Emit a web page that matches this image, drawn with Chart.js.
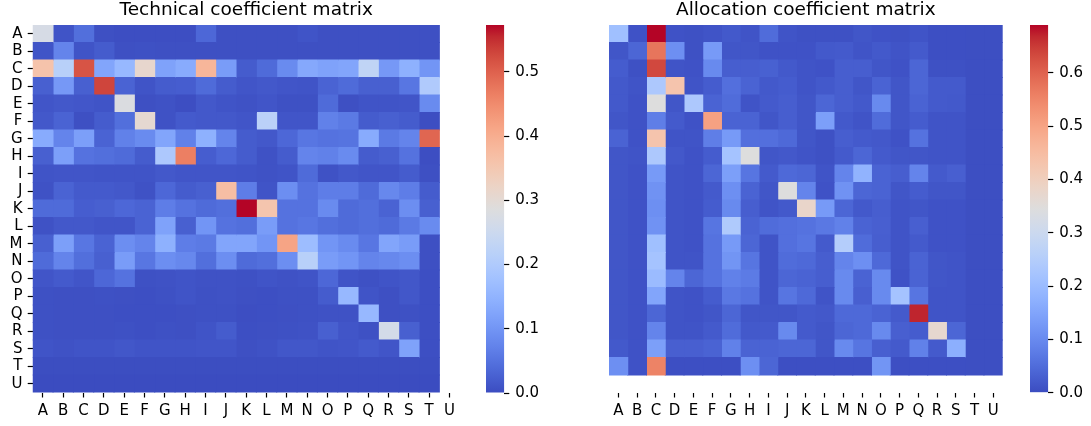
<!DOCTYPE html>
<html>
<head>
<meta charset="utf-8">
<script src="https://cdn.jsdelivr.net/npm/chart.js@4.4.1/dist/chart.umd.min.js"></script>
<style>
  html, body { margin: 0; padding: 0; background: #ffffff; }
  #wrap { position: relative; width: 1091px; height: 426px; overflow: hidden; }
  .box { position: absolute; top: 0; height: 426px; }
</style>
</head>
<body>
<div id="wrap">
  <div class="box" style="left:0px;width:470px"><canvas id="techMap"></canvas></div>
  <div class="box" style="left:470px;width:100px"><canvas id="techBar"></canvas></div>
  <div class="box" style="left:560px;width:450px"><canvas id="allocMap"></canvas></div>
  <div class="box" style="left:1010px;width:81px"><canvas id="allocBar"></canvas></div>
</div>
<script>
// Sector labels (rows and columns)
const sectors = ['A','B','C','D','E','F','G','H','I','J','K','L','M','N','O','P','Q','R','S','T','U'];

// Technical coefficients: 21 rows (A..U) x 20 columns (A..T)
const technicalRows = [
  [0.27, 0.01, 0.045, 0.005, 0.003, 0.003, 0.003, 0.003, 0.035, 0.005, 0.005, 0.005, 0.005, 0.01, 0.005, 0.005, 0.005, 0.005, 0.005, 0.005],
  [0.01, 0.075, 0.01, 0.02, 0.005, 0.006, 0.005, 0.005, 0.005, 0.005, 0.005, 0.005, 0.005, 0.005, 0.005, 0.005, 0.005, 0.005, 0.005, 0.005],
  [0.36, 0.215, 0.515, 0.125, 0.16, 0.31, 0.12, 0.135, 0.385, 0.11, 0.02, 0.04, 0.085, 0.13, 0.12, 0.125, 0.23, 0.105, 0.145, 0.1],
  [0.025, 0.105, 0.025, 0.53, 0.03, 0.01, 0.02, 0.022, 0.04, 0.02, 0.012, 0.015, 0.012, 0.01, 0.03, 0.04, 0.025, 0.025, 0.055, 0.2],
  [0.012, 0.015, 0.013, 0.01, 0.28, 0.005, 0.008, 0.003, 0.015, 0.01, 0.008, 0.012, 0.006, 0.006, 0.04, 0.005, 0.01, 0.01, 0.012, 0.085],
  [0.015, 0.03, 0.005, 0.02, 0.045, 0.305, 0.008, 0.018, 0.015, 0.015, 0.012, 0.22, 0.012, 0.012, 0.07, 0.06, 0.02, 0.025, 0.02, 0.003],
  [0.135, 0.075, 0.115, 0.03, 0.07, 0.085, 0.125, 0.07, 0.145, 0.075, 0.02, 0.015, 0.035, 0.055, 0.05, 0.052, 0.135, 0.06, 0.075, 0.495],
  [0.025, 0.115, 0.05, 0.045, 0.04, 0.02, 0.195, 0.465, 0.022, 0.035, 0.02, 0.008, 0.02, 0.075, 0.07, 0.085, 0.02, 0.025, 0.05, 0.003],
  [0.01, 0.012, 0.012, 0.01, 0.01, 0.01, 0.015, 0.012, 0.012, 0.012, 0.01, 0.008, 0.01, 0.04, 0.008, 0.015, 0.012, 0.012, 0.02, 0.005],
  [0.008, 0.03, 0.018, 0.018, 0.015, 0.008, 0.035, 0.02, 0.025, 0.37, 0.065, 0.01, 0.09, 0.05, 0.065, 0.065, 0.04, 0.08, 0.065, 0.02],
  [0.04, 0.04, 0.022, 0.025, 0.035, 0.03, 0.065, 0.05, 0.04, 0.045, 0.573, 0.355, 0.05, 0.05, 0.085, 0.04, 0.045, 0.03, 0.09, 0.025],
  [0.008, 0.015, 0.015, 0.012, 0.012, 0.03, 0.12, 0.025, 0.1, 0.05, 0.045, 0.11, 0.05, 0.055, 0.045, 0.04, 0.045, 0.04, 0.06, 0.085],
  [0.025, 0.115, 0.055, 0.03, 0.09, 0.075, 0.145, 0.065, 0.06, 0.125, 0.125, 0.1, 0.415, 0.17, 0.1, 0.085, 0.055, 0.125, 0.11, 0.005],
  [0.04, 0.075, 0.045, 0.025, 0.11, 0.055, 0.09, 0.08, 0.045, 0.09, 0.04, 0.045, 0.09, 0.215, 0.11, 0.1, 0.075, 0.08, 0.09, 0.005],
  [0.012, 0.018, 0.012, 0.035, 0.05, 0.006, 0.008, 0.01, 0.008, 0.008, 0.006, 0.01, 0.008, 0.01, 0.035, 0.01, 0.006, 0.01, 0.014, 0.004],
  [0.006, 0.005, 0.005, 0.006, 0.005, 0.004, 0.006, 0.01, 0.006, 0.008, 0.005, 0.004, 0.006, 0.006, 0.02, 0.16, 0.01, 0.005, 0.014, 0.004],
  [0.006, 0.005, 0.005, 0.005, 0.004, 0.004, 0.004, 0.005, 0.006, 0.006, 0.003, 0.004, 0.005, 0.006, 0.008, 0.008, 0.16, 0.005, 0.006, 0.004],
  [0.006, 0.005, 0.005, 0.005, 0.006, 0.004, 0.006, 0.005, 0.01, 0.02, 0.004, 0.005, 0.006, 0.008, 0.025, 0.012, 0.006, 0.265, 0.025, 0.004],
  [0.01, 0.008, 0.01, 0.01, 0.014, 0.01, 0.01, 0.01, 0.012, 0.012, 0.005, 0.008, 0.014, 0.014, 0.01, 0.012, 0.018, 0.012, 0.12, 0.004],
  [0.002, 0.002, 0.002, 0.002, 0.002, 0.002, 0.002, 0.002, 0.002, 0.002, 0.002, 0.002, 0.002, 0.002, 0.002, 0.002, 0.002, 0.002, 0.002, 0.002],
  [0, 0, 0, 0, 0, 0, 0, 0, 0, 0, 0, 0, 0, 0, 0, 0, 0, 0, 0, 0]
];

// Allocation coefficients: 20 rows (A..T) x 21 columns (A..U)
const allocationRows = [
  [0.21, 0.01, 0.69, 0.01, 0.008, 0.012, 0.02, 0.012, 0.05, 0.012, 0.008, 0.008, 0.008, 0.015, 0.01, 0.008, 0.012, 0.005, 0.005, 0.004, 0.004],
  [0.015, 0.04, 0.575, 0.11, 0.008, 0.13, 0.015, 0.015, 0.01, 0.01, 0.01, 0.02, 0.022, 0.012, 0.02, 0.012, 0.022, 0.005, 0.005, 0.004, 0.004],
  [0.025, 0.008, 0.635, 0.012, 0.01, 0.1, 0.028, 0.028, 0.032, 0.02, 0.012, 0.01, 0.028, 0.028, 0.015, 0.01, 0.04, 0.008, 0.008, 0.004, 0.004],
  [0.02, 0.012, 0.235, 0.43, 0.012, 0.025, 0.055, 0.035, 0.02, 0.025, 0.012, 0.02, 0.028, 0.015, 0.035, 0.015, 0.04, 0.022, 0.022, 0.004, 0.004],
  [0.02, 0.01, 0.345, 0.015, 0.235, 0.035, 0.05, 0.012, 0.022, 0.028, 0.015, 0.04, 0.028, 0.02, 0.1, 0.015, 0.035, 0.022, 0.02, 0.004, 0.004],
  [0.015, 0.01, 0.08, 0.022, 0.01, 0.505, 0.035, 0.035, 0.015, 0.028, 0.015, 0.14, 0.02, 0.012, 0.05, 0.015, 0.025, 0.012, 0.012, 0.004, 0.004],
  [0.035, 0.01, 0.43, 0.012, 0.012, 0.08, 0.13, 0.055, 0.055, 0.045, 0.015, 0.008, 0.028, 0.022, 0.018, 0.01, 0.06, 0.012, 0.012, 0.004, 0.004],
  [0.015, 0.012, 0.235, 0.018, 0.01, 0.025, 0.22, 0.345, 0.015, 0.018, 0.012, 0.008, 0.022, 0.04, 0.022, 0.015, 0.015, 0.012, 0.012, 0.004, 0.004],
  [0.015, 0.01, 0.13, 0.012, 0.01, 0.04, 0.14, 0.065, 0.022, 0.045, 0.04, 0.012, 0.09, 0.18, 0.035, 0.028, 0.09, 0.022, 0.03, 0.004, 0.004],
  [0.015, 0.01, 0.115, 0.012, 0.01, 0.022, 0.11, 0.035, 0.015, 0.345, 0.09, 0.01, 0.115, 0.04, 0.035, 0.015, 0.025, 0.015, 0.015, 0.004, 0.004],
  [0.015, 0.01, 0.11, 0.012, 0.01, 0.025, 0.1, 0.028, 0.012, 0.02, 0.38, 0.13, 0.04, 0.02, 0.028, 0.012, 0.015, 0.01, 0.01, 0.004, 0.004],
  [0.015, 0.01, 0.115, 0.012, 0.01, 0.065, 0.24, 0.035, 0.05, 0.055, 0.06, 0.07, 0.085, 0.035, 0.03, 0.012, 0.03, 0.01, 0.01, 0.004, 0.004],
  [0.015, 0.01, 0.21, 0.012, 0.01, 0.06, 0.13, 0.04, 0.012, 0.055, 0.065, 0.022, 0.25, 0.05, 0.028, 0.012, 0.022, 0.01, 0.01, 0.004, 0.004],
  [0.015, 0.01, 0.22, 0.012, 0.012, 0.06, 0.12, 0.065, 0.012, 0.05, 0.045, 0.028, 0.09, 0.11, 0.045, 0.012, 0.035, 0.015, 0.012, 0.004, 0.004],
  [0.015, 0.01, 0.2, 0.09, 0.04, 0.06, 0.085, 0.075, 0.012, 0.04, 0.035, 0.028, 0.1, 0.035, 0.1, 0.01, 0.035, 0.015, 0.012, 0.004, 0.004],
  [0.015, 0.01, 0.15, 0.012, 0.01, 0.025, 0.07, 0.06, 0.012, 0.065, 0.045, 0.012, 0.1, 0.03, 0.1, 0.22, 0.065, 0.012, 0.012, 0.004, 0.004],
  [0.015, 0.01, 0.04, 0.012, 0.01, 0.015, 0.04, 0.015, 0.015, 0.015, 0.022, 0.018, 0.045, 0.045, 0.035, 0.022, 0.67, 0.012, 0.012, 0.004, 0.004],
  [0.015, 0.01, 0.09, 0.012, 0.012, 0.022, 0.05, 0.02, 0.022, 0.1, 0.022, 0.015, 0.04, 0.045, 0.1, 0.03, 0.025, 0.37, 0.04, 0.004, 0.004],
  [0.02, 0.01, 0.14, 0.03, 0.03, 0.035, 0.085, 0.035, 0.035, 0.04, 0.04, 0.015, 0.1, 0.065, 0.03, 0.022, 0.085, 0.022, 0.17, 0.004, 0.004],
  [0.11, 0.01, 0.555, 0.005, 0.005, 0.005, 0.005, 0.11, 0.04, 0.005, 0.005, 0.005, 0.005, 0.005, 0.12, 0.005, 0.005, 0.005, 0.005, 0.004, 0.004]
];

// Colour-bar tick values
const technicalTicks = [0, 0.1, 0.2, 0.3, 0.4, 0.5];
const allocationTicks = [0, 0.1, 0.2, 0.3, 0.4, 0.5, 0.6];

// Diverging blue-to-red palette (33 evenly spaced anchors)
const coolwarmStops = [
  [59,76,192],[68,90,204],[77,104,215],[87,117,225],[98,130,234],[108,142,241],
  [119,154,247],[130,165,251],[141,176,254],[152,185,255],[163,194,255],[174,201,253],
  [184,208,249],[194,213,244],[204,217,238],[213,219,230],[221,221,221],[229,216,209],
  [236,211,197],[241,204,184],[245,196,172],[247,187,160],[247,177,148],[247,166,135],
  [244,154,123],[241,141,111],[236,127,99],[229,112,88],[222,96,77],[213,80,66],
  [203,62,56],[192,40,47],[180,4,38]
];

function coolwarm(t) {
  t = Math.max(0, Math.min(1, t));
  const f = t * (coolwarmStops.length - 1);
  const i = Math.min(coolwarmStops.length - 2, Math.floor(f));
  const r = f - i;
  const a = coolwarmStops[i], b = coolwarmStops[i + 1];
  const mix = k => Math.round(a[k] + (b[k] - a[k]) * r);
  return `rgb(${mix(0)},${mix(1)},${mix(2)})`;
}

function matrixMax(m) {
  return Math.max(...m.map(row => Math.max(...row)));
}

Chart.defaults.font.family = "'DejaVu Sans', 'Liberation Sans', sans-serif";
Chart.defaults.color = '#000';

const TICK_FONT = { size: 15, lineHeight: 1.2 };
const tickGrid = {
  display: true, drawOnChartArea: false, drawTicks: true,
  tickLength: 5, tickColor: '#000', tickWidth: 1.2, offset: false
};

function heatmapConfig(rows, title, showRowLabels, pad) {
  const vmax = matrixMax(rows);
  const nCols = rows[0].length;
  const datasets = [];
  for (let c = 0; c < nCols; c++) {
    datasets.push({
      label: sectors[c],
      data: rows.map(() => [c, c + 1]),
      backgroundColor: ctx => coolwarm(rows[ctx.dataIndex][c] / vmax),
      borderWidth: 0,
      inflateAmount: 0.5,
      barPercentage: 1,
      categoryPercentage: 1,
      grouped: false
    });
  }
  return {
    type: 'bar',
    data: { labels: sectors, datasets },
    options: {
      indexAxis: 'y',
      responsive: true,
      maintainAspectRatio: false,
      animation: false,
      events: [],
      layout: { padding: pad },
      plugins: {
        legend: { display: false },
        tooltip: { enabled: false },
        title: {
          display: true, text: title, fullSize: false, color: '#000',
          font: { size: 18.5, weight: 'normal', lineHeight: 1 },
          padding: { top: 1, bottom: 5.5 }
        }
      },
      scales: {
        x: {
          type: 'linear', min: 0, max: sectors.length, position: 'bottom',
          afterBuildTicks: s => { s.ticks = sectors.map((_, i) => ({ value: i + 0.5 })); },
          afterFit: s => { s.height = 33.5; },
          ticks: {
            autoSkip: false, maxRotation: 0, minRotation: 0, padding: 5,
            font: TICK_FONT, color: '#000',
            callback: (v, i) => sectors[i]
          },
          grid: tickGrid,
          border: { display: false }
        },
        y: {
          type: 'category', offset: true, display: showRowLabels,
          afterFit: s => { s.width = 32.7; },
          ticks: { autoSkip: false, padding: 5.2, font: TICK_FONT, color: '#000' },
          grid: tickGrid,
          border: { display: false }
        }
      }
    }
  };
}

function colorbarConfig(vmax, tickValues, pad, axisWidth) {
  return {
    type: 'bar',
    data: {
      labels: [''],
      datasets: [{
        data: [[0, vmax]],
        borderWidth: 0,
        inflateAmount: 0,
        barPercentage: 1,
        categoryPercentage: 1,
        backgroundColor: ctx => {
          const area = ctx.chart.chartArea;
          if (!area) return coolwarm(0);
          const g = ctx.chart.ctx.createLinearGradient(0, area.bottom, 0, area.top);
          coolwarmStops.forEach((c, i) => g.addColorStop(i / (coolwarmStops.length - 1), `rgb(${c[0]},${c[1]},${c[2]})`));
          return g;
        }
      }]
    },
    options: {
      responsive: true,
      maintainAspectRatio: false,
      animation: false,
      events: [],
      layout: { padding: pad },
      plugins: { legend: { display: false }, tooltip: { enabled: false } },
      scales: {
        x: { display: false },
        y: {
          type: 'linear', min: 0, max: vmax, position: 'right',
          afterBuildTicks: s => { s.ticks = tickValues.map(v => ({ value: v })); },
          afterFit: s => { s.width = axisWidth; },
          ticks: { padding: 6, font: TICK_FONT, color: '#000', callback: v => v.toFixed(1) },
          grid: { display: true, drawOnChartArea: false, drawTicks: true, tickLength: 5, tickColor: '#000', tickWidth: 1.2 },
          border: { display: false }
        }
      }
    }
  };
}

new Chart(document.getElementById('techMap'),
  heatmapConfig(technicalRows, 'Technical coefficient matrix', true, { left: 0, right: 10.3, top: 0, bottom: 0 }));
new Chart(document.getElementById('techBar'),
  colorbarConfig(matrixMax(technicalRows), technicalTicks, { left: 16, right: 5.7, top: 25, bottom: 33 }, 60));
new Chart(document.getElementById('allocMap'),
  heatmapConfig(allocationRows, 'Allocation coefficient matrix', false, { left: 16.3, right: 7.3, top: 0, bottom: 0 }));
new Chart(document.getElementById('allocBar'),
  colorbarConfig(matrixMax(allocationRows), allocationTicks, { left: 20, right: 2.7, top: 25, bottom: 33.3 }, 40));
</script>
</body>
</html>
